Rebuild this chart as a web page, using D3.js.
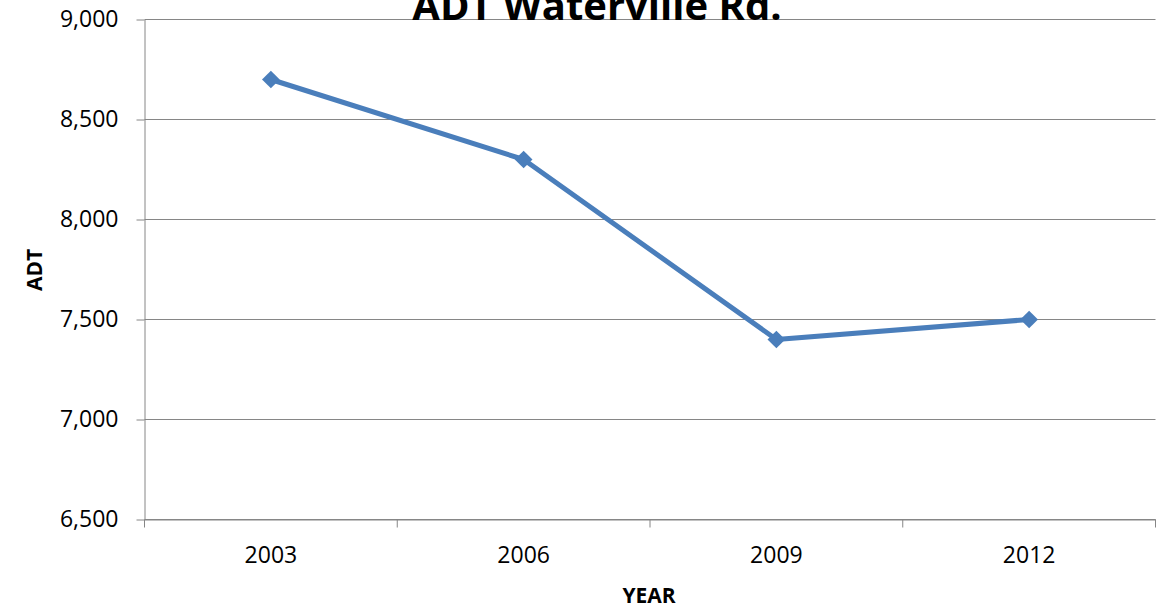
<!DOCTYPE html>
<html>
<head>
<meta charset="utf-8">
<script src="https://cdn.jsdelivr.net/npm/d3@7"></script>
<style>
  body { margin: 0; background: #fff; }
  svg { display: block; font-family: "Open Sans", sans-serif; }
  .axis path, .axis line { stroke: #868686; }
  .axis text { fill: #000; font-size: 23px; font-family: "Open Sans", sans-serif; }
</style>
</head>
<body>
<svg id="chart"></svg>
<script>
const years = ['2003', '2006', '2009', '2012'];
const adt = [8700, 8300, 7400, 7500];
const yTicks = [6500, 7000, 7500, 8000, 8500, 9000];

const width = 1159, height = 614;
const margin = {top: 19.5, right: 3.5, bottom: 94.5, left: 144.5};
const innerW = width - margin.left - margin.right;
const innerH = height - margin.top - margin.bottom;

const data = years.map((y, i) => ({year: y, value: adt[i]}));

const svg = d3.select('#chart')
    .attr('width', width)
    .attr('height', height);

const chart = svg.append('g')
    .attr('transform', `translate(${margin.left},${margin.top})`);

const xScale = d3.scaleBand()
    .domain(years)
    .range([0, innerW]);

const yScale = d3.scaleLinear()
    .domain([6500, 9000])
    .range([innerH, 0]);

// gridlines
chart.append('g')
    .selectAll('line')
    .data(yTicks)
  .join('line')
    .attr('x1', 0)
    .attr('x2', innerW)
    .attr('y1', d => yScale(d))
    .attr('y2', d => yScale(d))
    .attr('stroke', '#868686')
    .attr('stroke-width', 1);

// y axis
const yAxisG = chart.append('g')
    .attr('class', 'axis y-axis')
    .call(d3.axisLeft(yScale).tickValues(yTicks).tickFormat(d3.format(',')).tickSize(8).tickPadding(18).tickSizeOuter(0));
yAxisG.select('.domain').attr('stroke', '#868686');

// x axis: ticks on band boundaries
const xAxisG = chart.append('g')
    .attr('class', 'axis x-axis')
    .attr('transform', `translate(0,${innerH})`)
    .call(d3.axisBottom(xScale).tickSize(0).tickPadding(27));
xAxisG.selectAll('.tick text').attr('dy', '0.71em');
xAxisG.selectAll('.bound')
    .data(d3.range(years.length + 1))
  .join('line')
    .attr('class', 'bound')
    .attr('x1', i => i * xScale.step())
    .attr('x2', i => i * xScale.step())
    .attr('y1', 0)
    .attr('y2', 8)
    .attr('stroke', '#868686');

const cx = d => xScale(d.year) + xScale.bandwidth() / 2;

// line
chart.append('path')
    .datum(data)
    .attr('fill', 'none')
    .attr('stroke', '#4a7ebb')
    .attr('stroke-width', 5)
    .attr('stroke-linejoin', 'round')
    .attr('d', d3.line().x(cx).y(d => yScale(d.value)));

// diamond markers
chart.selectAll('.marker')
    .data(data)
  .join('path')
    .attr('class', 'marker')
    .attr('fill', '#4a7ebb')
    .attr('d', d3.symbol(d3.symbolDiamond2, 200))
    .attr('transform', d => `translate(${cx(d)},${yScale(d.value)})`);

// title
svg.append('text')
    .attr('x', 597)
    .attr('y', 20)
    .attr('text-anchor', 'middle')
    .style('font-size', '40px')
    .style('font-weight', 'bold')
    .text('ADT Waterville Rd.');

// axis titles
svg.append('text')
    .attr('x', 649)
    .attr('y', 603)
    .attr('text-anchor', 'middle')
    .style('font-size', '21px')
    .style('font-weight', 'bold')
    .text('YEAR');

svg.append('text')
    .attr('transform', 'translate(42,270) rotate(-90)')
    .attr('text-anchor', 'middle')
    .style('font-size', '21px')
    .style('font-weight', 'bold')
    .text('ADT');
</script>
</body>
</html>
